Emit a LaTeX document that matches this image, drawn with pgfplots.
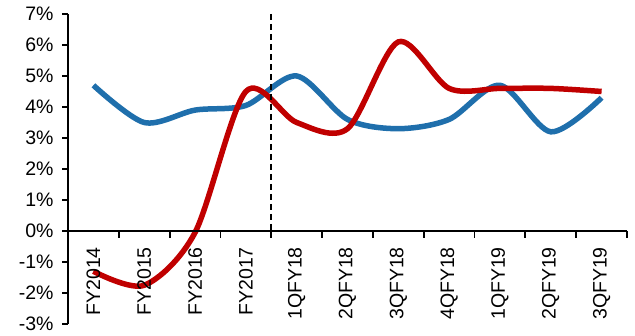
\documentclass[border=0pt]{standalone}
\usepackage{pgfplots}
\pgfplotsset{compat=1.18}
\usepackage{fontspec}
\setmainfont{Liberation Sans}
\definecolor{seriesblue}{RGB}{31,111,172}
\definecolor{seriesred}{RGB}{192,0,0}

\begin{document}
\begin{tikzpicture}[catlab/.style={rotate=90, anchor=east, inner sep=0pt, font=\fontsize{19.5}{22}\selectfont}]
\begin{axis}[
  at={(0pt,0pt)}, anchor=south west,
  scale only axis, width=559pt, height=310pt,
  xmin=-0.5, xmax=10.5, ymin=-3, ymax=7,
  axis y line*=left,
  axis x line=none,
  clip=false,
  ytick={-3,-2,...,7},
  yticklabels={-3\%,-2\%,-1\%,0\%,1\%,2\%,3\%,4\%,5\%,6\%,7\%},
  xtick=\empty,
  tick align=outside,
  major tick length=6pt,
  every tick/.style={black, line width=1.8pt},
  y axis line style={black, line width=1.8pt},
  yticklabel style={font=\fontsize{19.5}{22}\selectfont, xshift=-5pt},
]
% growth rates, one series per line
\addplot[seriesblue, line width=5.5pt, smooth, tension=0.5] coordinates {
  (0,4.7) (1,3.5) (2,3.9) (3,4.05) (4,5.0) (5,3.6) (6,3.3) (7,3.6) (8,4.7) (9,3.2) (10,4.3)
};
\addplot[seriesred, line width=5.5pt, smooth, tension=0.5] coordinates {
  (0,-1.3) (1,-1.75) (2,-0.05) (3,4.5) (4,3.5) (5,3.3) (6,6.1) (7,4.6) (8,4.6) (9,4.6) (10,4.5)
};
% horizontal axis at zero with ticks between categories
\draw[black, line width=1.8pt] (axis cs:-0.5,0) -- (axis cs:10.5,0);
\pgfplotsinvokeforeach{0.5,1.5,...,10.5}{
  \draw[black, line width=1.8pt] (axis cs:#1,0) -- ++(0pt,-7pt);
}
% annual / quarterly divider
\draw[black, line width=1.8pt, dash pattern=on 6pt off 4pt] (axis cs:3.5,7) -- (axis cs:3.5,0);
% category names
\node[catlab] at ([yshift=-16pt]axis cs:0,0) {FY2014};
\node[catlab] at ([yshift=-16pt]axis cs:1,0) {FY2015};
\node[catlab] at ([yshift=-16pt]axis cs:2,0) {FY2016};
\node[catlab] at ([yshift=-16pt]axis cs:3,0) {FY2017};
\node[catlab] at ([yshift=-16pt]axis cs:4,0) {1QFY18};
\node[catlab] at ([yshift=-16pt]axis cs:5,0) {2QFY18};
\node[catlab] at ([yshift=-16pt]axis cs:6,0) {3QFY18};
\node[catlab] at ([yshift=-16pt]axis cs:7,0) {4QFY18};
\node[catlab] at ([yshift=-16pt]axis cs:8,0) {1QFY19};
\node[catlab] at ([yshift=-16pt]axis cs:9,0) {2QFY19};
\node[catlab] at ([yshift=-16pt]axis cs:10,0) {3QFY19};
\end{axis}
\pgfresetboundingbox
\path (-68pt,-12pt) rectangle (567pt,324pt);
\end{tikzpicture}
\end{document}
